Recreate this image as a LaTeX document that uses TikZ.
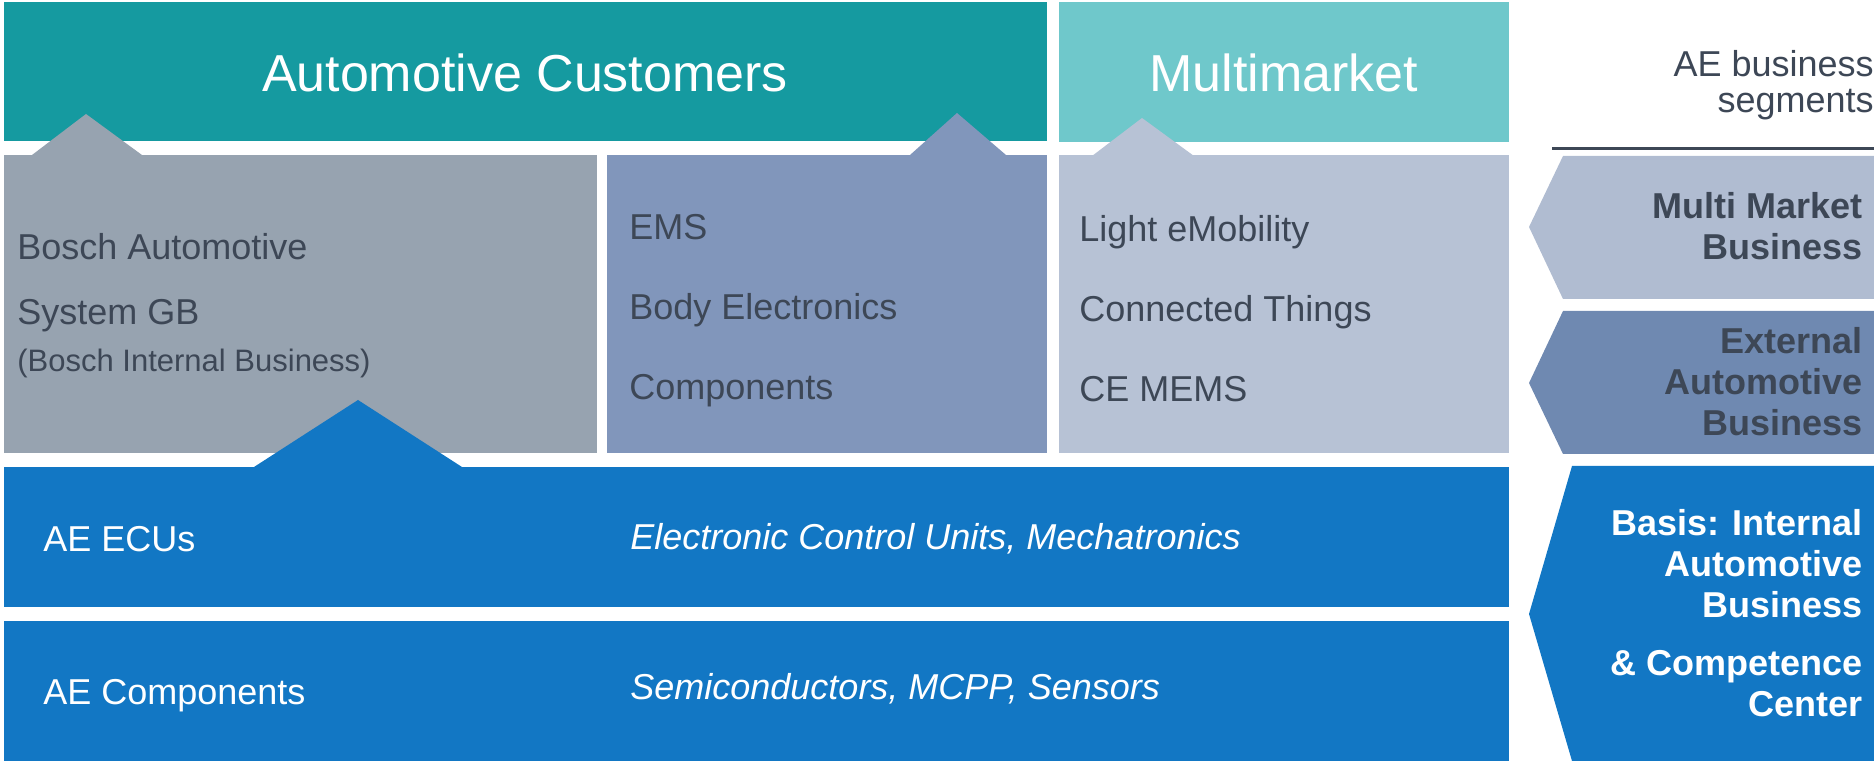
\documentclass[tikz,border=0pt]{standalone}
\usepackage{fontspec}
\setmainfont{Liberation Sans}
\usepackage{xcolor}
\usepackage{tikz}
\definecolor{custteal}{HTML}{159AA0}
\definecolor{multiteal}{HTML}{6FC8CB}
\definecolor{boschgray}{HTML}{97A3B0}
\definecolor{extblue}{HTML}{8196BB}
\definecolor{multigray}{HTML}{B7C2D5}
\definecolor{aeblue}{HTML}{1277C4}
\definecolor{seglight}{HTML}{B0BCD1}
\definecolor{segmid}{HTML}{6F89B1}
\definecolor{darktext}{HTML}{3D4756}
\tikzstyle{title} = [inner sep=0pt, anchor=base, text=white, font=\fontsize{26}{30}\selectfont]
\tikzstyle{item} = [inner sep=0pt, anchor=base west, text=darktext, font=\fontsize{18}{21}\selectfont]
\tikzstyle{list} = [item, align=left, font=\fontsize{18}{40}\selectfont]
\tikzstyle{unit} = [inner sep=0pt, anchor=base west, text=white, font=\fontsize{18}{21}\selectfont]
\tikzstyle{unitdesc} = [unit, font=\fontsize{18}{21}\selectfont\itshape]
\tikzstyle{segment} = [inner sep=0pt, anchor=base east, align=right, font=\fontsize{18}{20.5}\selectfont\bfseries]

\begin{document}
\begin{tikzpicture}[x=0.5pt, y=-0.5pt]
\useasboundingbox (0,0) rectangle (1874,763);
\fill [custteal] (4,2) rectangle (1047,141);
\fill [multiteal] (1059,2) rectangle (1509,142);
\fill [boschgray] (4,155) rectangle (597,453);
\fill [boschgray] (32,155) -- (86,114) -- (142,155) -- cycle;
\fill [extblue] (607,155) rectangle (1047,453);
\fill [extblue] (910,155) -- (957,113) -- (1006,155) -- cycle;
\fill [multigray] (1059,155) rectangle (1509,453);
\fill [multigray] (1092,156) -- (1142,118) -- (1194,156) -- cycle;
\fill [aeblue] (4,467) rectangle (1509,607);
\fill [aeblue] (254,467) -- (358,400) -- (462,467) -- cycle;
\fill [aeblue] (4,621) rectangle (1509,761);
\node [title] (auto-cust) at (525,92) {Automotive Customers};
\node [title] (multimarket) at (1284,92) {Multimarket};
\node [item] (bosch-a) at (17,260) {Bosch Automotive};
\node [item] (bosch-b) at (17,325) {System GB};
\node [item, font=\fontsize{15.5}{18}\selectfont] (bosch-c) at (17,372) {(Bosch Internal Business)};
\node [list] (ext-list) at (629,400) {EMS\\Body Electronics\\Components};
\node [list] (multi-list) at (1079,402) {Light eMobility\\Connected Things\\CE MEMS};
\node [unit] (ecu) at (43,552) {AE ECUs};
\node [unitdesc] (ecu-desc) at (630,550) {Electronic Control Units, Mechatronics};
\node [unit] (comp) at (43,705) {AE Components};
\node [unitdesc] (comp-desc) at (630,700) {Semiconductors, MCPP, Sensors};
\node [inner sep=0pt, anchor=base east, align=right, text=darktext, font=\fontsize{18}{18}\selectfont] (seg-title) at (1874,113) {AE business\\segments};
\draw [darktext, line width=1.5pt] (1552,149) -- (1874,149);
\fill [seglight] (1874,156) -- (1563,156) -- (1529,227) -- (1563,299) -- (1874,299) -- cycle;
\fill [segmid] (1874,311) -- (1563,311) -- (1529,383) -- (1563,454) -- (1874,454) -- cycle;
\fill [aeblue] (1874,466) -- (1572,466) -- (1529,614) -- (1572,761) -- (1874,761) -- cycle;
\node [segment, text=darktext] (seg-multi) at (1863,260) {Multi Market\\Business};
\node [segment, text=darktext] (seg-ext) at (1863,436) {External\\Automotive\\Business};
\node [segment, text=white] (seg-basis) at (1863,717) {Basis: Internal\\Automotive\\Business\\[8.5pt]\& Competence\\Center};
\end{tikzpicture}
\end{document}
